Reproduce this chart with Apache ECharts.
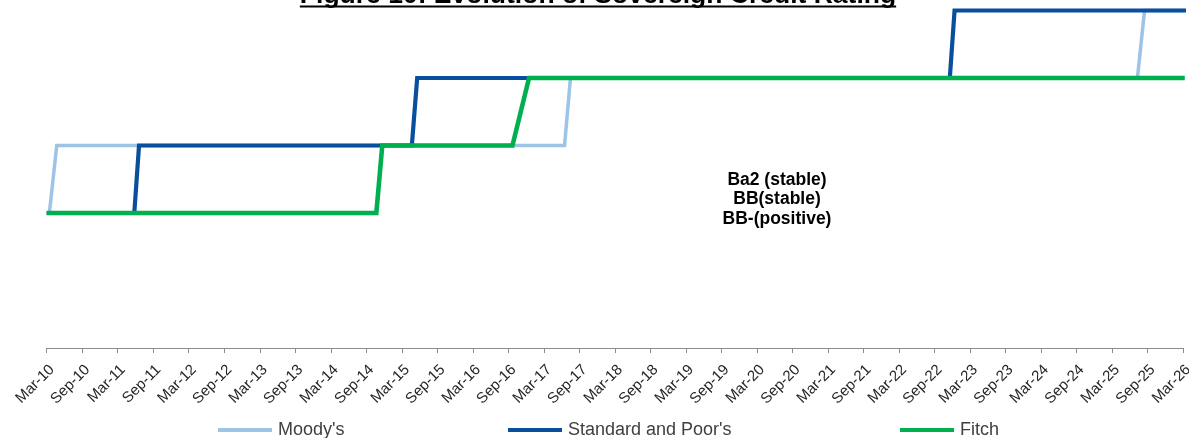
<!DOCTYPE html>
<html>
<head>
<meta charset="utf-8">
<script src="https://cdn.jsdelivr.net/npm/echarts@6/dist/echarts.min.js"></script>
<style>
html,body{margin:0;padding:0;background:#fff;}
#chart{width:1189px;height:438px;}
</style>
</head>
<body>
<div id="chart"></div>
<script>
// ---- data ----
const tickLabels = ['Mar-10','Sep-10','Mar-11','Sep-11','Mar-12','Sep-12','Mar-13','Sep-13','Mar-14','Sep-14',
  'Mar-15','Sep-15','Mar-16','Sep-16','Mar-17','Sep-17','Mar-18','Sep-18','Mar-19','Sep-19','Mar-20','Sep-20',
  'Mar-21','Sep-21','Mar-22','Sep-22','Mar-23','Sep-23','Mar-24','Sep-24','Mar-25','Sep-25','Mar-26'];
// months since Mar-10 and rating level (notch index)
const moodysMonths = [0, 0.45, 1.7, 87.5, 88.5, 184.3, 185.5, 193];
const moodysLevels = [2, 2, 3, 3, 4, 4, 5, 5];
const spMonths = [0, 14.8, 15.6, 61.7, 62.6, 152.6, 153.4, 193];
const spLevels = [2, 2, 3, 3, 4, 4, 5, 5];
const fitchMonths = [0, 55.7, 56.7, 78.7, 81.5, 192.3];
const fitchLevels = [2, 2, 3, 3, 4, 4];
const seriesNames = ["Moody's", 'Standard and Poor\'s', 'Fitch'];
const annotation = ['Ba2 (stable)', 'BB(stable)', 'BB-(positive)'];
const titleText = 'Figure 10: Evolution of Sovereign Credit Rating';

const pair = (xs, ys) => xs.map((x, i) => [x, ys[i]]);
const FONT = 'Arial, "Liberation Sans", sans-serif';

// measure title width for underline
const cv = document.createElement('canvas').getContext('2d');
const titleFont = 'bold 26.5px ' + FONT;
cv.font = titleFont;
const tw = cv.measureText(titleText).width;
const tcx = 598;

const chart = echarts.init(document.getElementById('chart'), null, {renderer: 'canvas'});
const colors = ['#9DC3E6', '#0A4F9E', '#00B050'];
const widths = [3.5, 4.2, 4.6];

const legendLeft = [213, 503, 895];

chart.setOption({
  animation: false,
  backgroundColor: '#ffffff',
  textStyle: {fontFamily: FONT},
  grid: {left: 46.7, right: 6, top: 10.5, bottom: 90, containLabel: false, outerBoundsMode: 'none'},
  xAxis: {
    type: 'value', min: 0, max: 192, interval: 6,
    splitLine: {show: false},
    axisLine: {lineStyle: {color: '#8c8c8c', width: 1}},
    axisTick: {show: true, length: 5, lineStyle: {color: '#8c8c8c'}},
    axisLabel: {
      rotate: 45, fontSize: 15, color: '#262626', margin: 14, fontFamily: FONT,
      align: 'right', verticalAlign: 'top', hideOverlap: false,
      formatter: v => tickLabels[Math.round(v / 6)] || ''
    }
  },
  yAxis: {type: 'value', min: 0, max: 5, show: false, splitLine: {show: false}},
  legend: seriesNames.map((n, i) => ({
    data: [n], left: legendLeft[i], top: 416,
    icon: 'rect', itemWidth: 54, itemHeight: 4, itemGap: 0,
    textStyle: {fontSize: 18, color: '#404040', fontFamily: FONT, padding: [0, 0, 0, 1]}
  })),
  series: [
    {name: seriesNames[0], data: pair(moodysMonths, moodysLevels)},
    {name: seriesNames[1], data: pair(spMonths, spLevels)},
    {name: seriesNames[2], data: pair(fitchMonths, fitchLevels)}
  ].map((s, i) => Object.assign(s, {
    type: 'line', showSymbol: false, symbol: 'none', color: colors[i],
    lineStyle: {width: widths[i], color: colors[i], join: 'miter'}, clip: false
  })),
  graphic: [
    {type: 'text', x: 777, y: 170, z: 100,
     style: {text: annotation.join('\n'), textAlign: 'center', textVerticalAlign: 'top',
       font: 'bold 17.5px ' + FONT, fill: '#000', lineHeight: 19.5}},
    {type: 'text', x: tcx, y: 9, z: 100,
     style: {text: titleText, textAlign: 'center', textVerticalAlign: 'bottom', font: titleFont, fill: '#000'}},
    {type: 'line', z: 100, shape: {x1: tcx - tw / 2, y1: 6.5, x2: tcx + tw / 2, y2: 6.5},
     style: {stroke: '#000', lineWidth: 1.8}}
  ]
});
</script>
</body>
</html>
